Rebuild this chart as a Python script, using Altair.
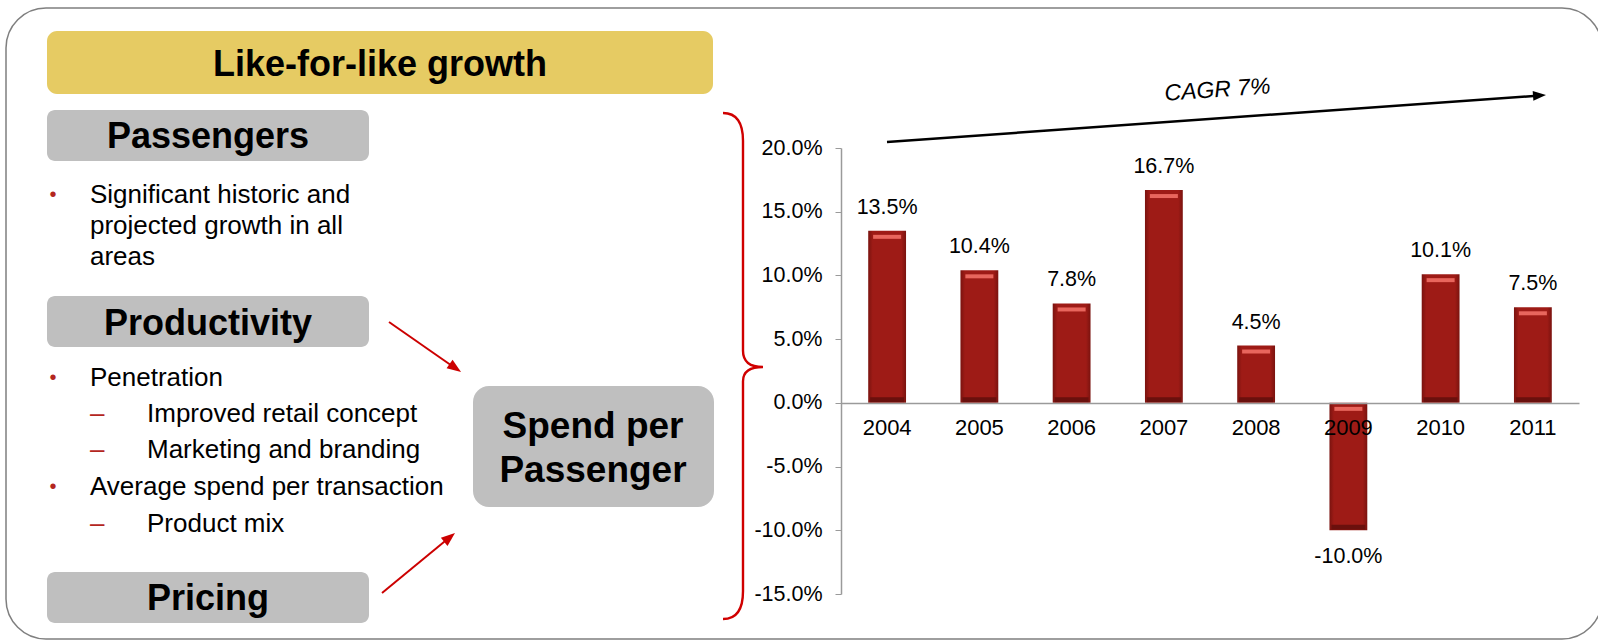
import altair as alt
import pandas as pd

# ---------------- data ----------------
years = ["2004", "2005", "2006", "2007", "2008", "2009", "2010", "2011"]
growth = [13.5, 10.4, 7.8, 16.7, 4.5, -10.0, 10.1, 7.5]
y_ticks = [-15, -10, -5, 0, 5, 10, 15, 20]

title_text = "Like-for-like growth"
passenger_lines = ["Significant historic and", "projected growth in all", "areas"]
productivity_items = [
    ("bullet", "Penetration"),
    ("dash", "Improved retail concept"),
    ("dash", "Marketing and branding"),
    ("bullet", "Average spend per transaction"),
    ("dash", "Product mix"),
]
cagr_text = "CAGR 7%"

df = pd.DataFrame({"year": years, "growth": growth})

# ---------------- layout ----------------
W, H = 1598, 640
OX, OY = 841, 148          # plot origin on the page
PW, PH = 738, 446          # plot area
FONT = "Liberation Sans"
one = alt.Data(values=[{"k": 1}])


def pos(x, y):
    return dict(x=alt.value(x - OX), y=alt.value(y - OY))


def txt(s, x, y, size, bold=False, italic=False, align="left", color="black", angle=0):
    m = alt.Chart(one).mark_text(
        text=s, font=FONT, fontSize=size,
        fontWeight="bold" if bold else "normal",
        fontStyle="italic" if italic else "normal",
        align=align, baseline="alphabetic", color=color, angle=angle,
    )
    return m.encode(**pos(x, y))


def box(x1, y1, x2, y2, color, r):
    return alt.Chart(one).mark_rect(color=color, cornerRadius=r).encode(
        x=alt.value(x1 - OX), x2=alt.value(x2 - OX),
        y=alt.value(y1 - OY), y2=alt.value(y2 - OY))


def rule(x1, y1, x2, y2, color, w):
    return alt.Chart(one).mark_rule(color=color, strokeWidth=w).encode(
        x=alt.value(x1 - OX), x2=alt.value(x2 - OX),
        y=alt.value(y1 - OY), y2=alt.value(y2 - OY))


HEAD = "M 1 0 L -1 -0.75 L -1 0.75 Z"


def head(x, y, angle, color, size):
    return alt.Chart(one).mark_point(
        shape=HEAD, filled=True, color=color, opacity=1, size=size, angle=angle
    ).encode(**pos(x, y))


layers = []

# outer rounded frame
layers.append(
    alt.Chart(one).mark_rect(fillOpacity=0, stroke="#7F7F7F", strokeWidth=1.5, cornerRadius=40).encode(
        x=alt.value(6 - OX), x2=alt.value(1602 - OX), y=alt.value(8 - OY), y2=alt.value(639 - OY))
)

# header
layers.append(box(47, 31, 713, 94, "#E6CB63", 10))
layers.append(txt(title_text, 380, 76, 36, bold=True, align="center"))

GRAY = "#BFBFBF"
layers.append(box(47, 110, 369, 161, GRAY, 8))
layers.append(txt("Passengers", 208, 148, 36, bold=True, align="center"))
layers.append(box(47, 296, 369, 347, GRAY, 8))
layers.append(txt("Productivity", 208, 335, 36, bold=True, align="center"))
layers.append(box(47, 572, 369, 623, GRAY, 8))
layers.append(txt("Pricing", 208, 610, 36, bold=True, align="center"))
layers.append(box(473, 386, 714, 507, GRAY, 16))
layers.append(txt("Spend per", 593, 438, 37, bold=True, align="center"))
layers.append(txt("Passenger", 593, 482, 37, bold=True, align="center"))

RED_B = "#B3261E"
# passengers bullet
layers.append(txt("•", 53, 201, 20, align="center", color=RED_B))
for i, line in enumerate(passenger_lines):
    layers.append(txt(line, 90, 203 + 31 * i, 26))

# productivity bullets
base_lines = [386, 422, 458, 495, 532]
for (kind, s), yb in zip(productivity_items, base_lines):
    if kind == "bullet":
        layers.append(txt("•", 53, yb - 2, 20, align="center", color=RED_B))
        layers.append(txt(s, 90, yb, 26))
    else:
        layers.append(txt("–", 90, yb, 26, color=RED_B))
        layers.append(txt(s, 147, yb, 26))

# red arrows
ARED = "#CC0000"
layers.append(rule(389, 322, 455, 368, ARED, 2))
layers.append(head(455.3, 368, 34.8, ARED, 196))
layers.append(rule(382, 593, 450, 537, ARED, 2))
layers.append(head(449.6, 537.4, 320.6, ARED, 196))

# brace
BRACE = ("M -0.079 -1 Q 0 -1 0 -0.89 L 0 -0.06 Q 0 0.004 0.079 0.004 "
         "Q 0 0.004 0 0.06 L 0 0.89 Q 0 1 -0.079 1")
layers.append(
    alt.Chart(one).mark_point(shape=BRACE, filled=False, stroke="#D00000", strokeWidth=2.4,
                              opacity=1, size=506 * 506).encode(**pos(743, 366))
)

# CAGR arrow
layers.append(rule(887, 142, 1540, 95.5, "black", 2.5))
layers.append(head(1539.5, 95.5, 355.9, "black", 169))
layers.append(txt(cagr_text, 1218, 97, 23, italic=True, align="center", angle=356))

# ---------------- bar chart ----------------
xscale = alt.Scale(paddingInner=0.59, paddingOuter=0.295)
yscale = alt.Scale(domain=[-15, 20], nice=False, zero=False)
pct_expr = "(datum.value < 0 ? '-' : '') + format(abs(datum.value), '.1f') + '%'"

x_axis = alt.Axis(title=None, labelAngle=0, ticks=False, tickSize=0, labelPadding=14,
                  labelFont=FONT, labelFontSize=22, labelColor="black",
                  domainColor="#9A9A9A", domainWidth=1.5, offset=-191, zindex=1)
y_axis = alt.Axis(title=None, values=y_ticks, grid=False, labelExpr=pct_expr,
                  tickSize=6, tickColor="#9A9A9A", domainColor="#9A9A9A", domainWidth=1.5,
                  labelFont=FONT, labelFontSize=21.5, labelColor="black", labelPadding=13)

grad = {
    "gradient": "linear", "x1": 0, "x2": 1, "y1": 0, "y2": 0,
    "stops": [
        {"offset": 0, "color": "#7A130F"},
        {"offset": 0.12, "color": "#9E1B16"},
        {"offset": 0.88, "color": "#9E1B16"},
        {"offset": 1, "color": "#7A130F"},
    ],
}


def X():
    return alt.X("year:N", scale=xscale, axis=x_axis, sort=years, title=None)


def Y(field):
    return alt.Y(field, scale=yscale, axis=y_axis, title=None)


base = alt.Chart(df)
bars = base.mark_bar(color=grad).encode(x=X(), y=Y("growth:Q"))
hi = base.transform_calculate(top="max(datum.growth, 0)").mark_tick(
    color="#E8665D", thickness=4, size=28, yOffset=6, opacity=1
).encode(x=X(), y=Y("top:Q"))
lo = base.transform_calculate(bot="min(datum.growth, 0)").mark_tick(
    color="#6A100D", thickness=5, size=34, yOffset=-3, opacity=1
).encode(x=X(), y=Y("bot:Q"))

lbl_calc = "(datum.growth < 0 ? '-' : '') + format(abs(datum.growth), '.1f') + '%'"
pos_lbl = base.transform_filter("datum.growth >= 0").transform_calculate(lbl=lbl_calc).mark_text(
    font=FONT, fontSize=21.5, color="black", baseline="middle", dy=-23
).encode(x=X(), y=Y("growth:Q"), text="lbl:N")
neg_lbl = base.transform_filter("datum.growth < 0").transform_calculate(lbl=lbl_calc).mark_text(
    font=FONT, fontSize=21.5, color="black", baseline="middle", dy=27
).encode(x=X(), y=Y("growth:Q"), text="lbl:N")

layers += [bars, hi, lo, pos_lbl, neg_lbl]

chart = alt.layer(*layers).properties(
    width=PW, height=PH,
    padding={"left": OX, "top": OY, "right": W - OX - PW, "bottom": H - OY - PH},
    autosize=alt.AutoSizeParams(type="none"),
    background="white",
).configure_view(strokeWidth=0)

chart.save("out.html", embed_options={"renderer": "svg", "actions": False})
